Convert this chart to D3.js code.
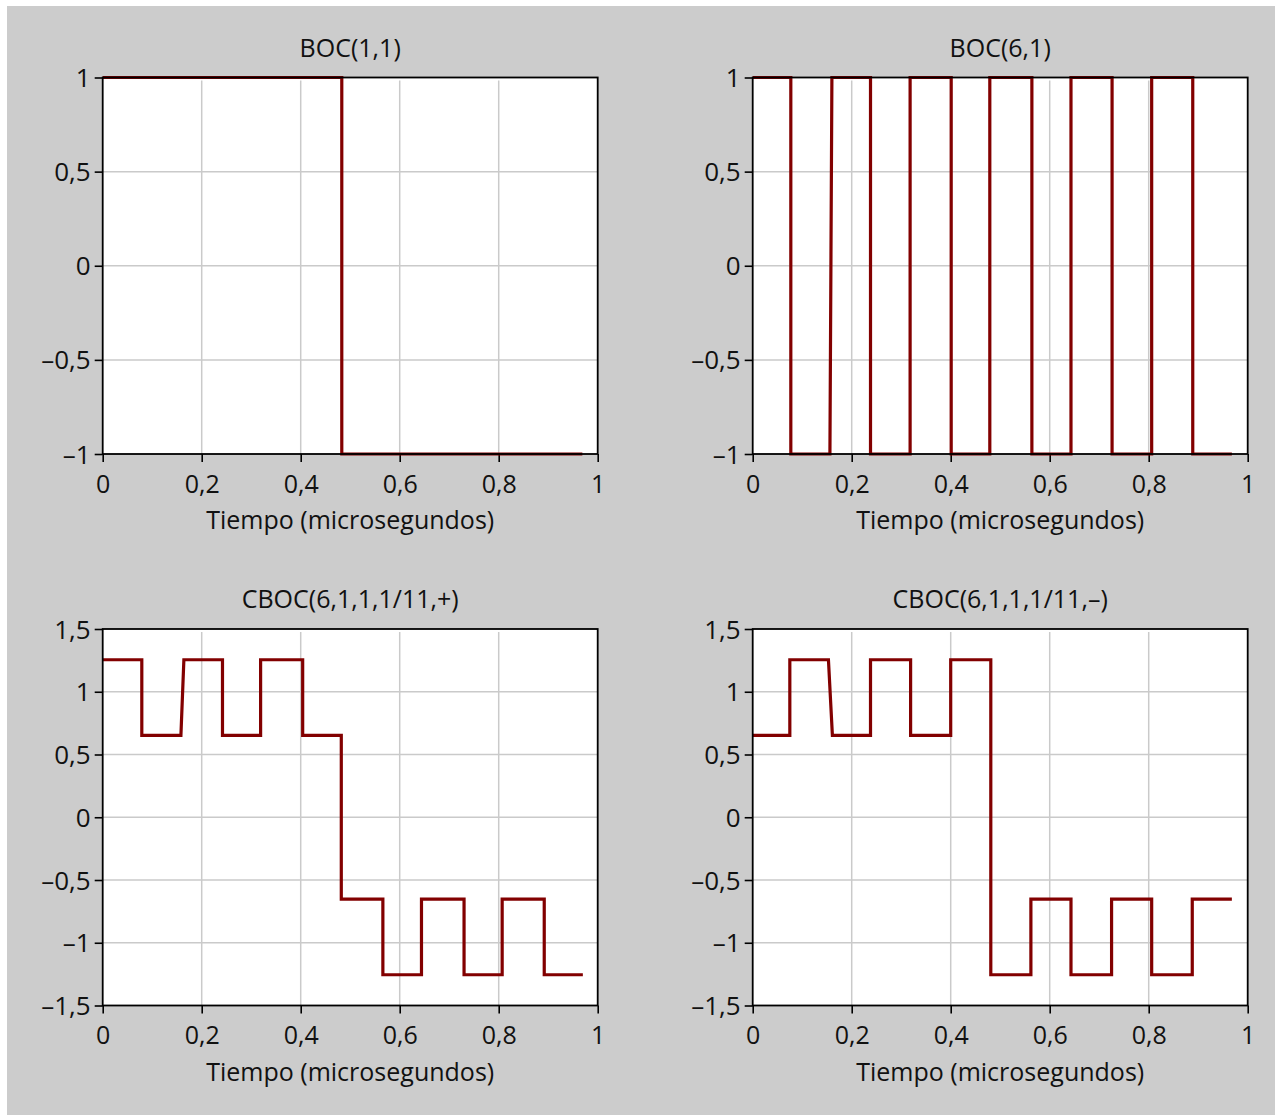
<!DOCTYPE html>
<html>
<head>
<meta charset="utf-8">
<script src="https://cdn.jsdelivr.net/npm/d3@7"></script>
<style>
  html, body { margin: 0; padding: 0; background: #ffffff; }
  svg { display: block; }
  text { font-family: "Open Sans", "Noto Sans", sans-serif; fill: #111111; }
</style>
</head>
<body>
<svg id="chart" width="1275" height="1115"></svg>
<script>
// ---------------- data ----------------
const titles = ["BOC(1,1)", "BOC(6,1)", "CBOC(6,1,1,1/11,+)", "CBOC(6,1,1,1/11,\u2013)"];
const xLabel = "Tiempo (microsegundos)";
const xTicks = [0, 0.2, 0.4, 0.6, 0.8, 1];
const yTicksTop = [-1, -0.5, 0, 0.5, 1];
const yTicksBottom = [-1.5, -1, -0.5, 0, 0.5, 1, 1.5];

// BOC(1,1)
const boc11T = [0, 0.483, 0.483, 0.969];
const boc11V = [1, 1, -1, -1];

// BOC(6,1)
const boc61T = [0, 0.077, 0.077, 0.156, 0.160, 0.238, 0.238, 0.318, 0.318, 0.401, 0.401, 0.479,
                0.479, 0.564, 0.564, 0.643, 0.643, 0.726, 0.726, 0.806, 0.806, 0.889, 0.889, 0.968];
const boc61V = [1, 1, -1, -1, 1, 1, -1, -1, 1, 1, -1, -1,
                1, 1, -1, -1, 1, 1, -1, -1, 1, 1, -1, -1];

// CBOC(+)
const cbocPlusT = [0, 0.079, 0.079, 0.158, 0.164, 0.242, 0.242, 0.319, 0.319, 0.404, 0.404, 0.482,
                   0.482, 0.566, 0.566, 0.644, 0.644, 0.730, 0.730, 0.807, 0.807, 0.892, 0.892, 0.970];
const cbocPlusV = [1.255, 1.255, 0.652, 0.652, 1.255, 1.255, 0.652, 0.652, 1.255, 1.255, 0.652, 0.652,
                   -0.652, -0.652, -1.255, -1.255, -0.652, -0.652, -1.255, -1.255, -0.652, -0.652, -1.255, -1.255];

// CBOC(-)
const cbocMinusT = [0, 0.075, 0.075, 0.153, 0.161, 0.238, 0.238, 0.319, 0.319, 0.400, 0.400, 0.481,
                    0.481, 0.562, 0.562, 0.643, 0.643, 0.725, 0.725, 0.806, 0.806, 0.888, 0.888, 0.968];
const cbocMinusV = [0.652, 0.652, 1.255, 1.255, 0.652, 0.652, 1.255, 1.255, 0.652, 0.652, 1.255, 1.255,
                    -1.255, -1.255, -0.652, -0.652, -1.255, -1.255, -0.652, -0.652, -1.255, -1.255, -0.652, -0.652];

// ---------------- layout ----------------
const svg = d3.select("#chart");
svg.append("rect").attr("x", 7).attr("y", 6).attr("width", 1268).attr("height", 1109).attr("fill", "#cccccc");

const locale = d3.formatLocale({decimal: ",", thousands: ".", grouping: [3], currency: ["", ""], minus: "\u2013"});
const fmt = v => locale.format("~g")(v);

const panels = [
  {title: titles[0], t: boc11T, v: boc11V, x0: 102.7, x1: 597.7, y0: 77.5, y1: 454, dom: [-1, 1], yt: yTicksTop},
  {title: titles[1], t: boc61T, v: boc61V, x0: 752.7, x1: 1247.7, y0: 77.5, y1: 454, dom: [-1, 1], yt: yTicksTop},
  {title: titles[2], t: cbocPlusT, v: cbocPlusV, x0: 102.7, x1: 597.7, y0: 629, y1: 1005.5, dom: [-1.5, 1.5], yt: yTicksBottom},
  {title: titles[3], t: cbocMinusT, v: cbocMinusV, x0: 752.7, x1: 1247.7, y0: 629, y1: 1005.5, dom: [-1.5, 1.5], yt: yTicksBottom}
];

panels.forEach(p => {
  const x = d3.scaleLinear().domain([0, 1]).range([p.x0, p.x1]);
  const y = d3.scaleLinear().domain(p.dom).range([p.y1, p.y0]);
  const g = svg.append("g");

  g.append("rect").attr("x", p.x0).attr("y", p.y0)
    .attr("width", p.x1 - p.x0).attr("height", p.y1 - p.y0).attr("fill", "#ffffff");

  // grid
  g.selectAll(".vg").data(xTicks.filter(d => d > 0 && d < 1)).enter().append("line")
    .attr("x1", d => x(d)).attr("x2", d => x(d))
    .attr("y1", p.y0 + 3).attr("y2", p.y1)
    .attr("stroke", "#cacaca").attr("stroke-width", 1.5);
  g.selectAll(".hg").data(p.yt.filter(d => d > p.dom[0] && d < p.dom[1])).enter().append("line")
    .attr("x1", p.x0).attr("x2", p.x1)
    .attr("y1", d => y(d)).attr("y2", d => y(d))
    .attr("stroke", "#cacaca").attr("stroke-width", 1.5);

  // axes
  const xAxis = d3.axisBottom(x).tickValues(xTicks).tickSize(8).tickSizeOuter(0).tickFormat(fmt);
  const yAxis = d3.axisLeft(y).tickValues(p.yt).tickSize(8).tickSizeOuter(0).tickFormat(fmt);

  const gx = g.append("g").attr("transform", `translate(0,${p.y1})`).call(xAxis);
  const gy = g.append("g").attr("transform", `translate(${p.x0},0)`).call(yAxis);
  [gx, gy].forEach(a => {
    a.select(".domain").remove();
    a.selectAll(".tick line").attr("stroke", "#000").attr("stroke-width", 1.6);
    a.selectAll(".tick text").attr("font-size", 25).attr("fill", "#111111")
      .style("font-family", '"Open Sans", sans-serif');
  });
  gx.selectAll(".tick text").attr("y", 21).attr("dy", "0.71em");
  gy.selectAll(".tick text").attr("x", -12).attr("font-size", 26).attr("dy", "0.35em");

  // data line
  const pts = p.t.map((t, i) => [t, p.v[i]]);
  g.append("path").datum(pts)
    .attr("d", d3.line().x(d => x(d[0])).y(d => y(d[1])))
    .attr("fill", "none").attr("stroke", "#820000").attr("stroke-width", 3.2);

  // frame
  g.append("rect").attr("x", p.x0).attr("y", p.y0)
    .attr("width", p.x1 - p.x0).attr("height", p.y1 - p.y0)
    .attr("fill", "none").attr("stroke", "#000").attr("stroke-width", 1.8);

  // titles
  g.append("text").attr("x", (p.x0 + p.x1) / 2).attr("y", p.y0 - 21)
    .attr("text-anchor", "middle").attr("font-size", 25).text(p.title);
  g.append("text").attr("x", (p.x0 + p.x1) / 2).attr("y", p.y1 + 75)
    .attr("text-anchor", "middle").attr("font-size", 25).text(xLabel);
});
</script>
</body>
</html>
